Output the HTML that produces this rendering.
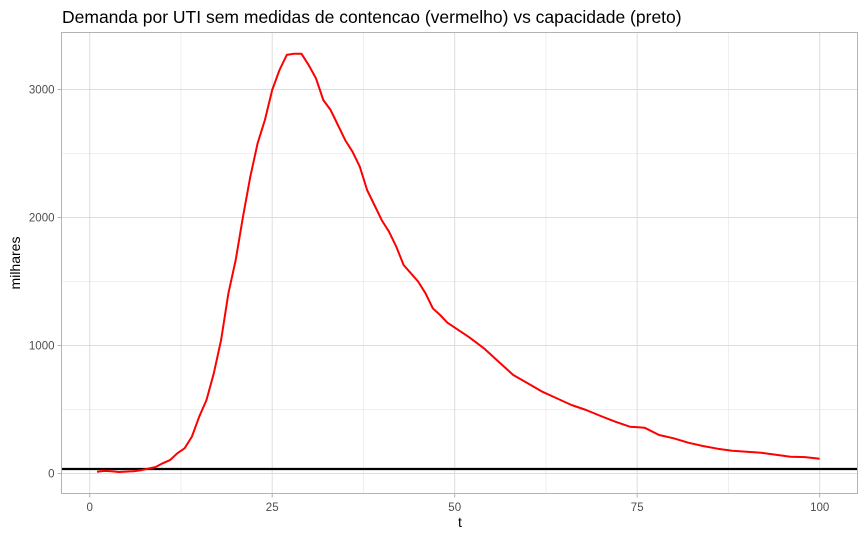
<!DOCTYPE html>
<html><head><meta charset="utf-8"><style>
body{margin:0;background:#fff;}
svg{display:block;font-family:"Liberation Sans",Arial,sans-serif;}
</style></head><body>
<svg id="chart" width="866" height="538">
<text x="62" y="23" font-size="17.5" fill="#000">Demanda por UTI sem medidas de contencao (vermelho) vs capacidade (preto)</text>
<g id="grid"></g>
<g id="marks"></g>
<rect x="61.5" y="32.5" width="796" height="461" fill="none" stroke="#b3b3b3"/>
<g id="axes"></g>
<text x="460" y="527" font-size="14" text-anchor="middle" fill="#000">t</text>
<text transform="translate(20,263) rotate(-90)" font-size="14" text-anchor="middle" fill="#000">milhares</text>
</svg>
<script>
const tValues=[1,2,3,4,5,6,7,8,9,10,11,12,13,14,15,16,17,18,19,20,21,22,23,24,25,26,27,28,29,30,31,32,33,34,35,36,37,38,39,40,41,42,43,44,45,46,47,48,49,50,52,54,56,58,60,62,64,66,68,70,72,74,76,78,80,82,84,86,88,90,92,94,96,98,100];
const demand=[14,20,18,12,15,18,25,38,50,80,105,158,197,288,444,574,783,1043,1408,1668,2006,2319,2580,2762,2996,3152,3270,3280,3280,3191,3087,2918,2840,2723,2605,2514,2397,2215,2098,1980,1889,1772,1629,1564,1499,1408,1291,1238,1178,1140,1064,978,874,770,705,639,587,535,496,449,405,366,358,301,275,241,215,194,178,170,162,147,131,128,116];
const capacity=35;
const xTicks=[0,25,50,75,100];
const yTicks=[0,1000,2000,3000];
const xMinor=[12.5,37.5,62.5,87.5];
const yMinor=[500,1500,2500];
const NS="http://www.w3.org/2000/svg";
const L=61.5,R=857.5,T=32.5,B=493.5;
function xs(v){return 89.7+v*7.3;}
function ys(v){return 473.5-v*0.128;}
function mk(tag,attrs,parent){const e=document.createElementNS(NS,tag);for(const k in attrs)e.setAttribute(k,attrs[k]);parent.appendChild(e);return e;}
const grid=document.getElementById('grid'),marks=document.getElementById('marks'),axes=document.getElementById('axes');
xMinor.forEach(v=>{const e=mk('line',{x1:xs(v),x2:xs(v),y1:T,y2:B,stroke:'#ebebeb','stroke-width':0.8},grid);

});
yMinor.forEach(v=>{const e=mk('line',{x1:L,x2:R,y1:ys(v),y2:ys(v),stroke:'#ebebeb','stroke-width':0.8},grid);

});
xTicks.forEach(v=>{const e=mk('line',{x1:xs(v),x2:xs(v),y1:T,y2:B,stroke:'#dedede','stroke-width':1},grid);


const tk=mk('line',{x1:xs(v),x2:xs(v),y1:B,y2:B+4,stroke:'#b3b3b3'},axes);


const t=mk('text',{x:xs(v),y:511,'font-size':11.5,'text-anchor':'middle',fill:'#4d4d4d'},axes);t.textContent=v;

});
yTicks.forEach(v=>{const e=mk('line',{x1:L,x2:R,y1:ys(v),y2:ys(v),stroke:'#dedede','stroke-width':1},grid);


const tk=mk('line',{x1:L-4,x2:L,y1:ys(v),y2:ys(v),stroke:'#b3b3b3'},axes);


const t=mk('text',{x:L-7,y:ys(v)+4,'font-size':11.5,'text-anchor':'end',fill:'#4d4d4d'},axes);t.textContent=v;

});
const cap=mk('line',{x1:L,x2:R,y1:ys(capacity),y2:ys(capacity),stroke:'#000','stroke-width':2.2},marks);


const pts=tValues.map((t,i)=>xs(t).toFixed(1)+','+ys(demand[i]).toFixed(1)).join(' ');
const dl=mk('polyline',{points:pts,fill:'none',stroke:'#ff0000','stroke-width':2,'stroke-linejoin':'round'},marks);


</script>
</body></html>
